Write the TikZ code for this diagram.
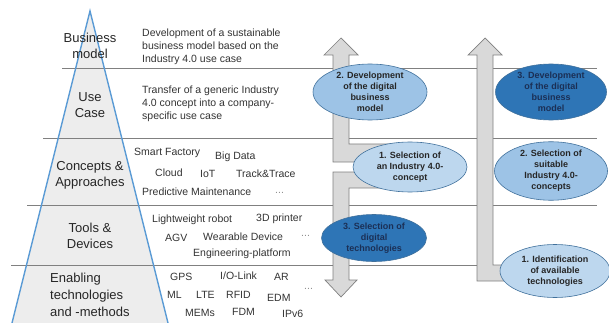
\documentclass[tikz,border=0pt]{standalone}
\usepackage{fontspec}
\setmainfont{Liberation Sans}
\usetikzlibrary{shapes.geometric}
\definecolor{pyrfill}{HTML}{EDEDED}
\definecolor{pyredge}{HTML}{5B9BD5}
\definecolor{elllight}{HTML}{BDD7EE}
\definecolor{ellmid}{HTML}{9DC3E6}
\definecolor{elldark}{HTML}{2E75B6}
\definecolor{ellborder}{HTML}{41719C}
\definecolor{navytext}{HTML}{1B2F55}
\definecolor{bandfill}{HTML}{D9D9D9}
\definecolor{banddraw}{HTML}{7F7F7F}

\begin{document}
\begin{tikzpicture}[x=1pt,y=-1pt,
  lbl/.style={font=\fontsize{13}{16}\selectfont,align=center,text=black!85,inner sep=0pt},
  desc/.style={font=\fontsize{10.5}{13}\selectfont,align=left,anchor=west,text=black!80,inner sep=0pt},
  more/.style={desc,text=black!45},
  stage/.style={ellipse,draw=ellborder,line width=0.6pt,inner sep=0pt,align=center,
    font=\fontsize{9}{11}\selectfont\bfseries,text=black!85},
  pale/.style={stage,fill=elllight}, mid/.style={stage,fill=ellmid},
  deep/.style={stage,fill=elldark,text=navytext},
  band/.style={fill=bandfill,draw=banddraw,line width=0.7pt,line join=miter},
  layer/.style={draw=black!50,line width=0.7pt}]
\useasboundingbox (0,0) rectangle (609,323);
% pyramid
\fill[pyrfill] (90,11) -- (12,323) -- (168,323) -- cycle;
\draw[layer] (62,68) -- (597,68);
\draw[layer] (43,138) -- (597,138);
\draw[layer] (27,205) -- (597,205);
\draw[layer] (11,265) -- (597,265);
\draw[pyredge,line width=1.4pt] (12,323) -- (90,11) -- (168,323);
\node[lbl] (bm) at (90,46) {Business\\model};
\node[lbl] (uc) at (90,105) {Use\\Case};
\node[lbl] (ca) at (90,175) {Concepts \&\\Approaches};
\node[lbl] (td) at (90,236) {Tools \&\\Devices};
\node[lbl,align=left,anchor=west,font=\fontsize{13}{17}\selectfont] (et) at (50,295) {Enabling\\technologies\\and -methods};
\node[desc] (bmtxt) at (142,47) {Development of a sustainable\\business model based on the\\Industry 4.0 use case};
\node[desc] (uctxt) at (142,104) {Transfer of a generic Industry\\4.0 concept into a company-\\specific use case};
% examples per layer
\foreach \x/\y/\t [count=\i] in {134/153/{Smart Factory},215/157/{Big Data},155/173/Cloud,
    200/174/IoT,236/174/{Track\&Trace},142/192/{Predictive Maintenance},
    152/220/{Lightweight robot},256/219/{3D printer},165/238/AGV,203/237/{Wearable Device},
    193/254/{Engineering-platform},170/277/GPS,220/276/{I/O-Link},274/277/AR,
    167/295/ML,196/295/LTE,226/295/RFID,267/298/EDM,185/313/MEMs,232/312/FDM,282/314/IPv6} {
  \node[desc] (kw\i) at (\x,\y) {\t};
}
\node[more] (ca-more) at (275,193) {...};
\node[more] (td-more) at (301,236) {...};
\node[more] (et-more) at (304,289) {...};
% block arrows
\draw[band] (400,144) -- (349,144) -- (349,55) -- (358,55) -- (341,38) -- (324,55)
  -- (333,55) -- (333,162) -- (400,162) -- cycle;
\draw[band] (400,172) -- (333,172) -- (333,280) -- (325,280) -- (341,297) -- (357,280)
  -- (349,280) -- (349,188) -- (400,188) -- cycle;
\draw[band] (520,265) -- (493,265) -- (493,55) -- (502,55) -- (485,38) -- (468,55)
  -- (477,55) -- (477,281) -- (520,281) -- cycle;
% stages
\node[mid,minimum width=114,minimum height=54] (devA) at (370,92) {2. Development\\of the digital\\business\\model};
\node[deep,minimum width=111,minimum height=54] (devB) at (551,92) {3. Development\\of the digital\\business\\model};
\node[pale,minimum width=114,minimum height=50] (selA) at (410,167) {1. Selection of\\an Industry 4.0-\\concept};
\node[mid,minimum width=113,minimum height=53] (selB) at (551,171) {2. Selection of\\suitable\\Industry 4.0-\\concepts};
\node[deep,minimum width=105,minimum height=47] (techA) at (374,238) {3. Selection of\\digital\\technologies};
\node[pale,minimum width=110,minimum height=53] (techB) at (555,271) {1. Identification\\of available\\technologies};
\end{tikzpicture}
\end{document}
